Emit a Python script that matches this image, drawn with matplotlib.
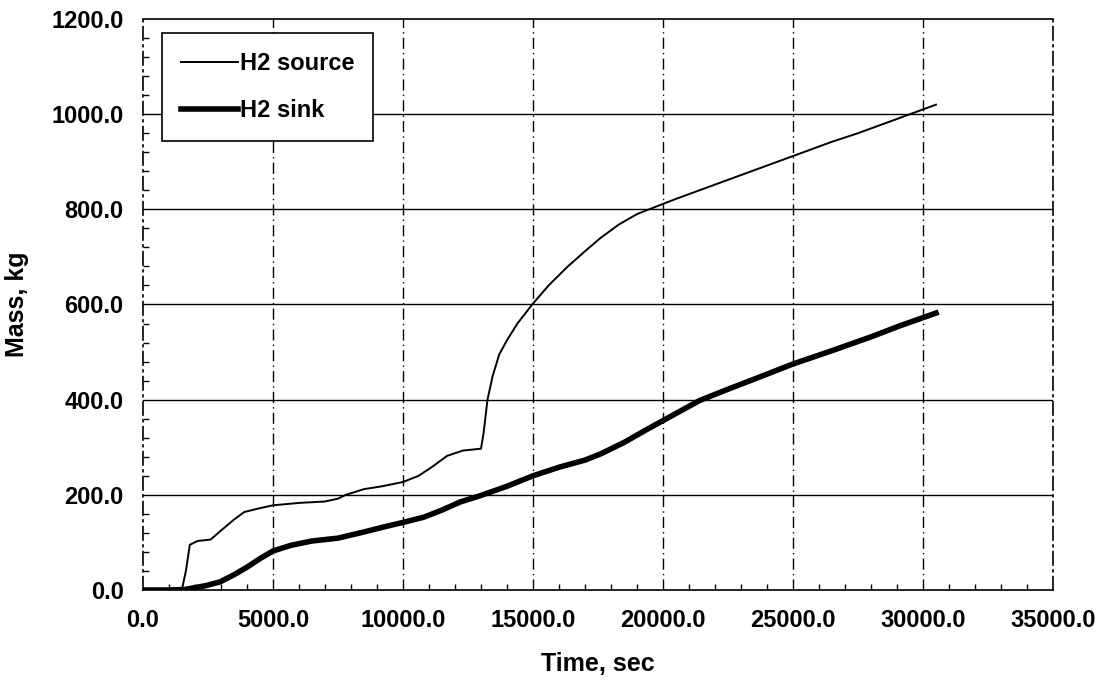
import numpy as np
import matplotlib.pyplot as plt
from matplotlib.ticker import MultipleLocator, FormatStrFormatter

# time (s) and mass (kg)
src_t = [0, 1000, 1500, 1650, 1800, 2100, 2600, 3000, 3500, 3900, 4500, 5000,
         6000, 7000, 7500, 7800, 8500, 9200, 10000, 10600, 11100, 11700, 12300,
         13000, 13100, 13250, 13450, 13700, 14000, 14400, 15000, 15600, 16300,
         17000, 17600, 18300, 19000, 19700, 20500, 21500, 22500, 23500, 24500,
         25300, 26500, 27500, 28500, 29400, 30500]
src_m = [0, 0, 2, 40, 95, 103, 106, 125, 148, 164, 172, 178,
         183, 186, 192, 200, 212, 218, 227, 240, 258, 282, 293,
         297, 330, 400, 450, 495, 525, 560, 602, 640, 678,
         712, 740, 768, 790, 805, 822, 842, 862, 882, 902,
         918, 942, 960, 980, 998, 1020]

sink_t = [0, 1000, 1600, 1900, 2400, 2960, 3500, 4000, 4500, 5000, 5700, 6500,
          7500, 8500, 9300, 10000, 10800, 11500, 12200, 12960, 14000, 15000,
          16000, 17000, 17600, 18500, 19300, 20000, 21400, 22500, 23500, 25000,
          26500, 28000, 29100, 30500]
sink_m = [0, 0, 1, 4, 9, 17, 32, 48, 66, 82, 94, 103,
          109, 122, 133, 142, 153, 168, 185, 198, 218, 240,
          258, 273, 286, 310, 335, 356, 398, 422, 443, 475,
          503, 532, 555, 582]

xticks = np.arange(0, 35001, 5000)
yticks = np.arange(0, 1201, 200)

plt.rcParams['font.family'] = ['Liberation Sans', 'DejaVu Sans']
plt.rcParams['font.weight'] = 'bold'

fig = plt.figure(figsize=(11.06, 6.9), dpi=100)
ax = fig.add_axes([143 / 1106, 1 - 590 / 690, 910 / 1106, 571 / 690])

ax.plot(src_t, src_m, color='black', lw=1.4, label='H2 source')
ax.plot(sink_t, sink_m, color='black', lw=4.0, label='H2 sink')

ax.set_xlim(0, 35000)
ax.set_ylim(0, 1200)
ax.set_xticks(xticks)
ax.set_yticks(yticks)
ax.xaxis.set_major_formatter(FormatStrFormatter('%.1f'))
ax.yaxis.set_major_formatter(FormatStrFormatter('%.1f'))
ax.xaxis.set_minor_locator(MultipleLocator(1000))
ax.yaxis.set_minor_locator(MultipleLocator(40))
ax.tick_params(which='major', length=0, labelsize=17, pad=14)
ax.tick_params(which='minor', direction='in', length=4, width=1)

for y in yticks[1:-1]:
    ax.axhline(y, color='black', lw=1.0, zorder=1)
for x in xticks[1:-1]:
    ax.axvline(x, color='black', lw=1.0, ls=(0, (8, 3, 1, 3)), zorder=1)

for side in ['left', 'right']:
    ax.spines[side].set_linestyle((0, (8, 3, 1, 3)))
for s in ax.spines.values():
    s.set_linewidth(1.2)

ax.set_xlabel('Time, sec', fontsize=18, fontweight='bold', labelpad=14)
ax.set_ylabel('Mass, kg', fontsize=18, fontweight='bold', labelpad=16)

leg = ax.legend(loc='upper left', bbox_to_anchor=(0.021, 0.975), fontsize=17,
                frameon=True, fancybox=False, handlelength=2.4, handletextpad=0.1,
                borderpad=0.8, labelspacing=1.0, borderaxespad=0)
leg.get_frame().set_edgecolor('black')
leg.get_frame().set_linewidth(1.2)
leg.get_frame().set_alpha(1)

fig.savefig('out.png', dpi=100)
